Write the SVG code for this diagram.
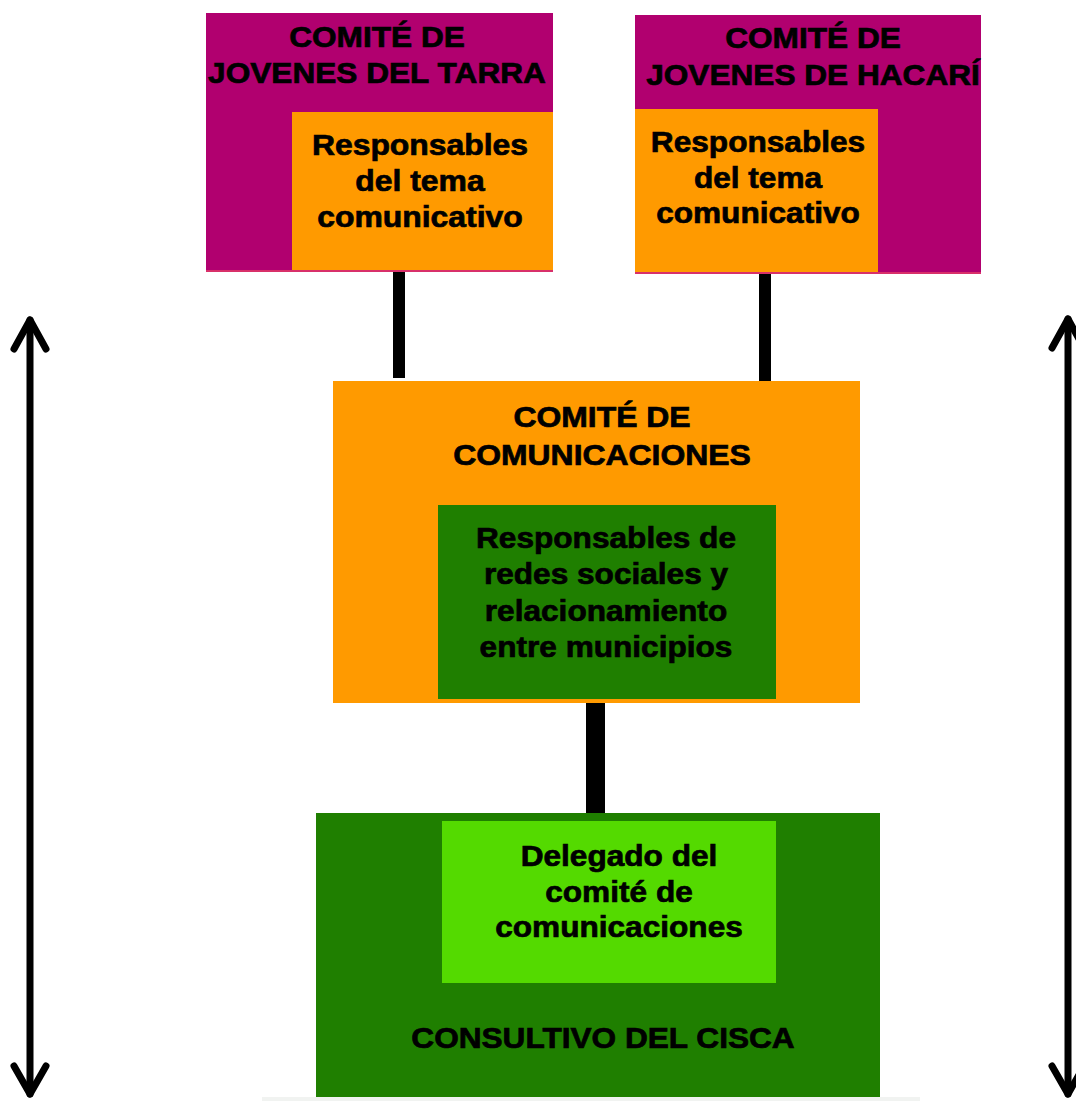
<svg xmlns="http://www.w3.org/2000/svg" width="1076" height="1101" viewBox="0 0 1076 1101">
  <defs>
    <style>
      .t { font-family: "Liberation Sans", Arial, Helvetica, sans-serif; font-weight: bold; font-size: 29px; fill: #000; stroke: #000; stroke-width: 0.7px; text-anchor: middle; }
      .purple { fill: #b1006f; }
      .orange { fill: #ff9a00; }
      .dgreen { fill: #1f7f00; }
      .lgreen { fill: #54da00; }
      .bar { fill: #000; }
      .arrow { fill: none; stroke: #000; stroke-width: 7; stroke-linecap: round; stroke-linejoin: round; }
    </style>
  </defs>
  <rect x="0" y="0" width="1076" height="1101" fill="#fff"/>
  <rect x="262" y="1097" width="658" height="4" fill="#f1f3f1"/>

  <g id="connectors">
    <rect class="bar" x="393" y="270" width="12" height="108"/>
    <rect class="bar" x="759" y="267" width="12" height="116"/>
    <rect class="bar" x="586" y="699" width="19" height="121"/>
  </g>

  <g id="comite-tarra">
    <rect class="purple" x="206" y="13" width="347" height="259"/>
    <rect x="206" y="270" width="347" height="2" fill="#d8306a"/>
    <rect class="orange" x="292" y="112" width="261" height="158"/>
    <g transform="translate(377 0) scale(1.09 1)">
      <text class="t" x="0" y="47">COMITÉ DE</text>
      <text class="t" x="0" y="83">JOVENES DEL TARRA</text>
    </g>
    <g transform="translate(420 0) scale(1.1 1)">
      <text class="t" x="0" y="155">Responsables</text>
      <text class="t" x="0" y="191">del tema</text>
      <text class="t" x="0" y="227">comunicativo</text>
    </g>
  </g>

  <g id="comite-hacari">
    <rect class="purple" x="635" y="15" width="346" height="259"/>
    <rect x="635" y="272" width="346" height="2" fill="#d8306a"/>
    <rect class="orange" x="635" y="109" width="243" height="163"/>
    <g transform="translate(813 0) scale(1.09 1)">
      <text class="t" x="0" y="48">COMITÉ DE</text>
      <text class="t" x="0" y="85">JOVENES DE HACARÍ</text>
    </g>
    <g transform="translate(758 0) scale(1.09 1)">
      <text class="t" x="0" y="152">Responsables</text>
      <text class="t" x="0" y="188">del tema</text>
      <text class="t" x="0" y="223">comunicativo</text>
    </g>
  </g>

  <g id="comite-comunicaciones">
    <rect class="orange" x="333" y="381" width="527" height="322"/>
    <rect class="dgreen" x="438" y="505" width="338" height="194"/>
    <g transform="translate(602 0) scale(1.1 1)">
      <text class="t" x="0" y="427">COMITÉ DE</text>
      <text class="t" x="0" y="465">COMUNICACIONES</text>
    </g>
    <g transform="translate(606 0) scale(1.09 1)">
      <text class="t" x="0" y="548">Responsables de</text>
      <text class="t" x="0" y="584">redes sociales y</text>
      <text class="t" x="0" y="621">relacionamiento</text>
      <text class="t" x="0" y="657">entre municipios</text>
    </g>
  </g>

  <g id="consultivo-cisca">
    <rect class="dgreen" x="316" y="813" width="564" height="284"/>
    <rect class="lgreen" x="442" y="821" width="334" height="162"/>
    <g transform="translate(619 0) scale(1.09 1)">
      <text class="t" x="0" y="866">Delegado del</text>
      <text class="t" x="0" y="902">comité de</text>
      <text class="t" x="0" y="937">comunicaciones</text>
    </g>
    <g transform="translate(603 0) scale(1.09 1)">
      <text class="t" x="0" y="1048">CONSULTIVO DEL CISCA</text>
    </g>
  </g>

  <g id="arrows">
    <path class="arrow" d="M30 320 L30 1094"/>
    <path class="arrow" d="M14 349 L30 320 L46 349"/>
    <path class="arrow" d="M14 1066 L30 1094 L46 1066"/>
    <path class="arrow" d="M1068 319 L1068 1094"/>
    <path class="arrow" d="M1052 348 L1068 319 L1084 348"/>
    <path class="arrow" d="M1052 1066 L1068 1094 L1084 1066"/>
  </g>
</svg>
